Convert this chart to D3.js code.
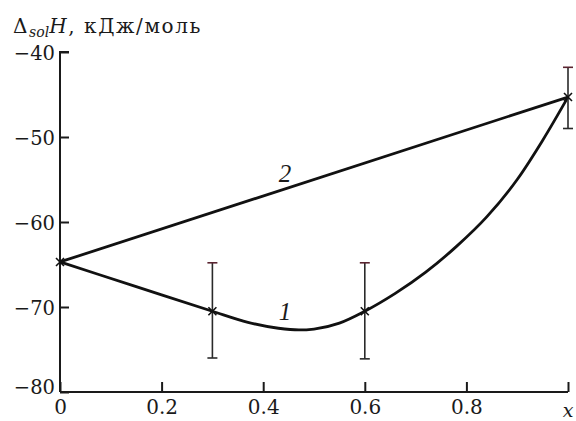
<!DOCTYPE html>
<html>
<head>
<meta charset="utf-8">
<script src="https://cdn.jsdelivr.net/npm/d3@7"></script>
<style>
  html, body { margin: 0; padding: 0; background: #fff; }
  svg text { font-family: "DejaVu Serif", "Liberation Serif", serif; fill: #1a1a1a; }
</style>
</head>
<body>
<div id="chart"></div>
<script>
// Данные
const xTicks = [0, 0.2, 0.4, 0.6, 0.8];
const yTicks = [-80, -70, -60, -50, -40];

// Кривая 1 (сглаженная линия через точки)
const curve1X = [0, 0.15, 0.3, 0.37, 0.43, 0.47, 0.5, 0.55, 0.6, 0.66, 0.72, 0.78, 0.84, 0.9, 0.95, 1.0];
const curve1Y = [-64.7, -67.6, -70.5, -71.8, -72.5, -72.7, -72.6, -71.9, -70.5, -68.4, -65.9, -62.9, -59.4, -55.0, -50.4, -45.3];

// Кривая 2 (прямая)
const curve2X = [0, 1.0];
const curve2Y = [-64.7, -45.3];

// Экспериментальные точки и погрешности
const pointX = [0, 0.3, 0.6, 1.0];
const pointY = [-64.7, -70.5, -70.5, -45.3];
const errLow = [null, -76.0, -76.1, -49.0];
const errHigh = [null, -64.8, -64.8, -41.8];

const width = 576;
const height = 421;

const svg = d3.select("#chart")
    .append("svg")
    .attr("width", width)
    .attr("height", height);

// Шкалы
const x = d3.scaleLinear().domain([0, 1]).range([60, 568]);
const y = d3.scaleLinear().domain([-80, -40]).range([392, 52]);

const minus = s => s.replace("-", "\u2212");

// Ось Y (засечки внутрь)
const yAxis = svg.append("g")
    .attr("transform", `translate(${x(0)},0)`)
    .call(d3.axisRight(y).tickValues(yTicks).tickSize(9).tickFormat(""));
yAxis.select(".domain").attr("d", `M9,${y(-40)}H0V${y(-80)}`);

yAxis.selectAll(".tick")
    .append("text")
    .attr("x", -5)
    .attr("dy", d => d === -80 ? "0.1em" : "0.36em")
    .attr("text-anchor", "end")
    .style("font-size", "19.5px")
    .text(d => minus(String(d)));

// Ось X (засечки внутрь)
const xAxis = svg.append("g")
    .attr("transform", `translate(0,${y(-80)})`)
    .call(d3.axisTop(x).tickValues(xTicks.concat([1])).tickSize(10).tickFormat(""));
xAxis.select(".domain").attr("d", `M${x(0)},0H${x(1)}`);

xAxis.selectAll(".tick")
    .filter(d => d < 1)
    .append("text")
    .attr("y", 22)
    .attr("text-anchor", "middle")
    .style("font-size", "20px")
    .text(d => d === 0 ? "0" : d3.format(".1f")(d));

svg.selectAll(".domain, .tick line")
    .attr("stroke", "#1a1a1a")
    .attr("stroke-width", 2);

// Подпись оси X
svg.append("text")
    .attr("x", 568)
    .attr("y", 417)
    .attr("text-anchor", "middle")
    .style("font-size", "19px")
    .style("font-style", "italic")
    .text("x");

// Подпись оси Y
const title = svg.append("text")
    .attr("x", 13)
    .attr("y", 33)
    .style("font-size", "20px")
    .style("letter-spacing", "1.6px");
title.append("tspan").text("\u0394");
title.append("tspan")
    .attr("dy", 4)
    .style("font-size", "14px")
    .style("font-style", "italic")
    .style("letter-spacing", "0px")
    .text("sol");
title.append("tspan")
    .attr("dy", -4)
    .style("font-style", "italic")
    .text("H");
title.append("tspan").text(", кДж/моль");

// Линии
const line = d3.line()
    .x(d => x(d[0]))
    .y(d => y(d[1]));

svg.append("path")
    .datum(d3.zip(curve2X, curve2Y))
    .attr("fill", "none")
    .attr("stroke", "#111")
    .attr("stroke-width", 2.8)
    .attr("d", line);

svg.append("path")
    .datum(d3.zip(curve1X, curve1Y))
    .attr("fill", "none")
    .attr("stroke", "#111")
    .attr("stroke-width", 2.8)
    .attr("d", line.curve(d3.curveMonotoneX));

// Погрешности
const errData = pointX.map((d, i) => ({ x: d, lo: errLow[i], hi: errHigh[i] }))
    .filter(d => d.lo !== null);

const eb = svg.selectAll(".err")
    .data(errData)
    .enter()
    .append("g")
    .attr("class", "err")
    .attr("stroke", "#2a2a2a")
    .attr("stroke-width", 1.6);

eb.append("line")
    .attr("x1", d => x(d.x)).attr("x2", d => x(d.x))
    .attr("y1", d => y(d.lo)).attr("y2", d => y(d.hi));
eb.append("line")
    .attr("x1", d => x(d.x) - 5).attr("x2", d => x(d.x) + 5)
    .attr("y1", d => y(d.hi)).attr("y2", d => y(d.hi))
    .attr("stroke", "#5a2430");
eb.append("line")
    .attr("x1", d => x(d.x) - 5).attr("x2", d => x(d.x) + 5)
    .attr("y1", d => y(d.lo)).attr("y2", d => y(d.lo));

// Маркеры-крестики
svg.selectAll(".pt")
    .data(d3.zip(pointX, pointY))
    .enter()
    .append("path")
    .attr("class", "pt")
    .attr("transform", d => `translate(${x(d[0])},${y(d[1])})`)
    .attr("d", "M-4,-4L4,4M-4,4L4,-4")
    .attr("stroke", "#111")
    .attr("stroke-width", 1.6);

// Номера кривых
svg.append("text")
    .attr("x", 285)
    .attr("y", 320)
    .attr("text-anchor", "middle")
    .style("font-family", "'Liberation Serif', serif")
    .style("font-size", "25px")
    .style("font-style", "italic")
    .text("1");

svg.append("text")
    .attr("x", 285)
    .attr("y", 182)
    .attr("text-anchor", "middle")
    .style("font-family", "'Liberation Serif', serif")
    .style("font-size", "25px")
    .style("font-style", "italic")
    .text("2");
</script>
</body>
</html>
